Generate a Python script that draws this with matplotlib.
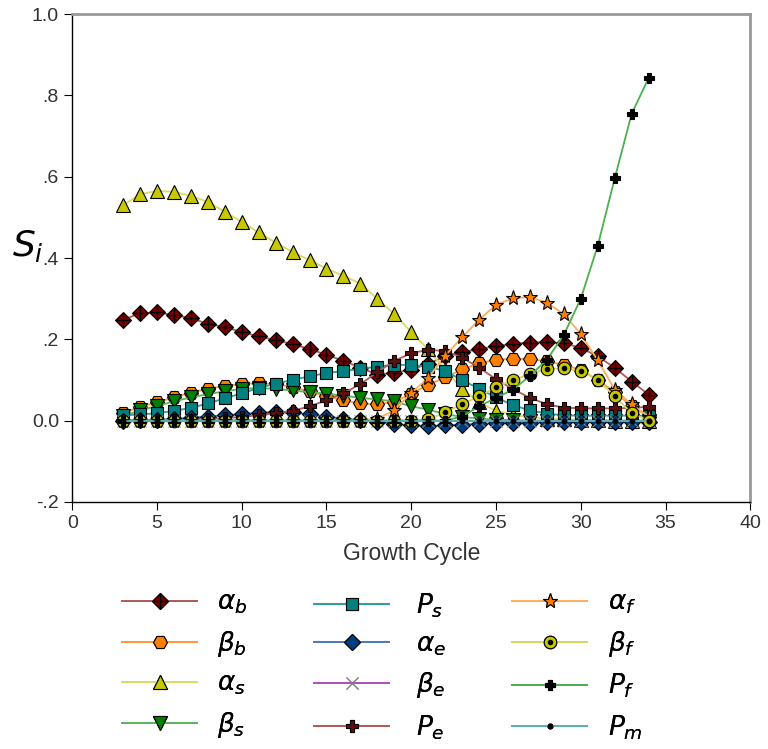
import matplotlib
matplotlib.use("Agg")
import matplotlib.pyplot as plt
from matplotlib.legend_handler import HandlerTuple

plt.rcParams['font.family'] = ['Liberation Sans', 'DejaVu Sans']
plt.rcParams['mathtext.fontset'] = 'dejavusans'

cycles = list(range(3, 35))

alpha_b = [.248, .264, .266, .260, .252, .238, .230, .218, .207, .198,
           .188, .176, .162, .147, .130, .113, .118, .125, .140, .158,
           .168, .176, .183, .189, .192, .193, .190, .179, .158, .130,
           .096, .064]
beta_b = [.018, .034, .045, .057, .069, .078, .085, .090, .092, .090,
          .082, .072, .060, .050, .042, .040, .046, .066, .088, .106,
          .126, .141, .150, .152, .151, .146, .137, .125, .100, .070,
          .035, .010]
alpha_s = [.530, .557, .565, .563, .553, .538, .514, .489, .463, .438,
           .415, .395, .374, .356, .337, .299, .262, .218, .175, .125,
           .078, .045, .024, .014, .008, .005, .003, .002, .001, .000,
           .000, .000]
beta_s = [.011, .025, .036, .047, .057, .065, .072, .078, .080, .078,
          .074, .070, .066, .061, .056, .052, .047, .035, .027, .016,
          .009, .005, .002, .001, .000, .000, .000, .000, .000, .000,
          .000, .000]
P_s = [.013, .015, .018, .024, .031, .042, .055, .067, .080, .091,
       .100, .109, .117, .122, .127, .133, .137, .137, .133, .121,
       .100, .078, .057, .038, .025, .017, .013, .012, .012, .012,
       .012, .012]
alpha_e = [.000, .001, .002, .004, .007, .010, .013, .016, .019, .021,
           .020, .015, .010, .005, .001, -.003, -.008, -.012, -.013, -.012,
           -.010, -.008, -.006, -.005, -.005, -.004, -.004, -.004, -.003, -.003,
           -.003, -.003]
beta_e = [.000, .000, .000, .000, .000, .000, .000, .000, .000, .000,
          .000, .000, .000, .000, .000, .000, .000, .000, .000, .000,
          .000, .000, .000, .000, .000, .000, .000, .000, .000, .000,
          .000, .000]
P_e = [.000, .000, .000, .001, .002, .004, .006, .009, .013, .018,
       .024, .035, .050, .067, .090, .119, .147, .166, .174, .171,
       .155, .130, .102, .077, .056, .040, .032, .030, .030, .030,
       .031, .034]
alpha_f = [.000, .000, .000, .000, .000, .000, .000, .000, .000, .000,
           .000, .000, .000, .000, .000, .005, .025, .068, .105, .160,
           .205, .248, .285, .301, .304, .290, .262, .213, .148, .076,
           .040, .010]
beta_f = [.000, .000, .000, .000, .000, .000, .000, .000, .000, .000,
          .000, .000, .000, .000, .000, .000, .000, .000, .003, .020,
          .040, .060, .082, .100, .114, .127, .129, .122, .100, .060,
          .018, .000]
P_f = [.000, .000, .000, .000, .000, .000, .000, .000, .000, .000,
       .000, .000, .000, .000, .000, .000, .000, .000, .000, .000,
       .010, .035, .056, .076, .110, .150, .211, .300, .430, .596,
       .755, .843]
P_m = [.000, .000, .000, .000, .000, .000, .000, .000, .000, .000,
       .000, .000, .000, .000, .000, .000, .000, .000, .000, .000,
       .000, .000, .000, .000, .000, .000, .000, .000, .000, .000,
       .000, .000]

y_ticks = [-0.2, 0.0, 0.2, 0.4, 0.6, 0.8, 1.0]
y_tick_labels = ['-.2', '0.0', '.2', '.4', '.6', '.8', '1.0']
x_ticks = [0, 5, 10, 15, 20, 25, 30, 35, 40]

# (values, label, line colour, marker, face, size, overlay marker)
series = [
    (alpha_b, r'$\alpha_b$', '#b25a5a', 'D', '#7a0000', 8.5, ('+', 'black', 10)),
    (beta_b, r'$\beta_b$', '#ff9a3c', 'H', '#ff8000', 10, None),
    (alpha_s, r'$\alpha_s$', '#dada66', '^', '#c8c800', 10, None),
    (beta_s, r'$\beta_s$', '#5cb45c', 'v', '#008000', 10, None),
    (P_s, r'$P_s$', '#2e9e9e', 's', '#008080', 9, None),
    (alpha_e, r'$\alpha_e$', '#4a7ab8', 'D', '#003c80', 8.5, None),
    (beta_e, r'$\beta_e$', '#b050b8', 'x', '#808080', 9, None),
    (P_e, r'$P_e$', '#b25a5a', 'P', '#5a1010', 8.5, None),
    (alpha_f, r'$\alpha_f$', '#ffae5a', '*', '#ff8000', 11, None),
    (beta_f, r'$\beta_f$', '#d8d860', 'o', '#c8c800', 9, ('.', 'black', 6)),
    (P_f, r'$P_f$', '#4caf50', 'P', '#000000', 6.5, None),
    (P_m, r'$P_m$', '#5ab0b0', '.', '#000000', 7, None),
]

fig = plt.figure(figsize=(7.68, 7.49), dpi=100)
ax = fig.add_axes([0.094, 0.330, 0.883, 0.651])

handles = []
labels = []
for i, (vals, lab, lc, mk, fc, ms, extra) in enumerate(series):
    ec = fc if mk == 'x' else 'black'
    line, = ax.plot(cycles, vals, color=lc, lw=1.3, marker=mk, ms=ms,
                    mfc=fc, mec=ec, mew=0.8, zorder=2 + i * 0.1)
    h = line
    if extra is not None:
        emk, ecol, ems = extra
        over, = ax.plot(cycles, vals, ls='none', marker=emk, ms=ems,
                        color=ecol, mew=1.0, zorder=2 + i * 0.1 + 0.05)
        h = (line, over)
    handles.append(h)
    labels.append(lab)

ax.set_xlim(0, 40)
ax.set_ylim(-0.2, 1.0)
ax.set_xticks(x_ticks)
ax.set_yticks(y_ticks)
ax.set_yticklabels(y_tick_labels)
ax.tick_params(direction='out', labelsize=14, length=6, colors='black',
               labelcolor='#333333')

for side in ['top', 'right']:
    ax.spines[side].set_color('#999999')
    ax.spines[side].set_linewidth(2)
for side in ['left', 'bottom']:
    ax.spines[side].set_color('black')
    ax.spines[side].set_linewidth(1)

ax.set_xlabel('Growth Cycle', fontsize=16.5, color='#333333', labelpad=7)
ax.set_ylabel(r'$S_i$', fontsize=26, rotation=0, va='center', ha='center')
ax.yaxis.set_label_coords(-0.066, 0.525)

# three legend columns, four entries each
col_left = [122, 314, 512]
col_pad = [0.75, 1.0, 0.8]
for c in range(3):
    legend = fig.legend(handles[4 * c:4 * c + 4], labels[4 * c:4 * c + 4],
                        loc='upper left',
                        bbox_to_anchor=(col_left[c] / 768, 1 - 591 / 749),
                        frameon=False, fontsize=19, handlelength=2.85,
                        handletextpad=col_pad[c], labelspacing=0.48,
                        borderpad=0, borderaxespad=0,
                        handler_map={tuple: HandlerTuple(ndivide=1)})
    fig.add_artist(legend)

fig.savefig('out.png', dpi=100)
